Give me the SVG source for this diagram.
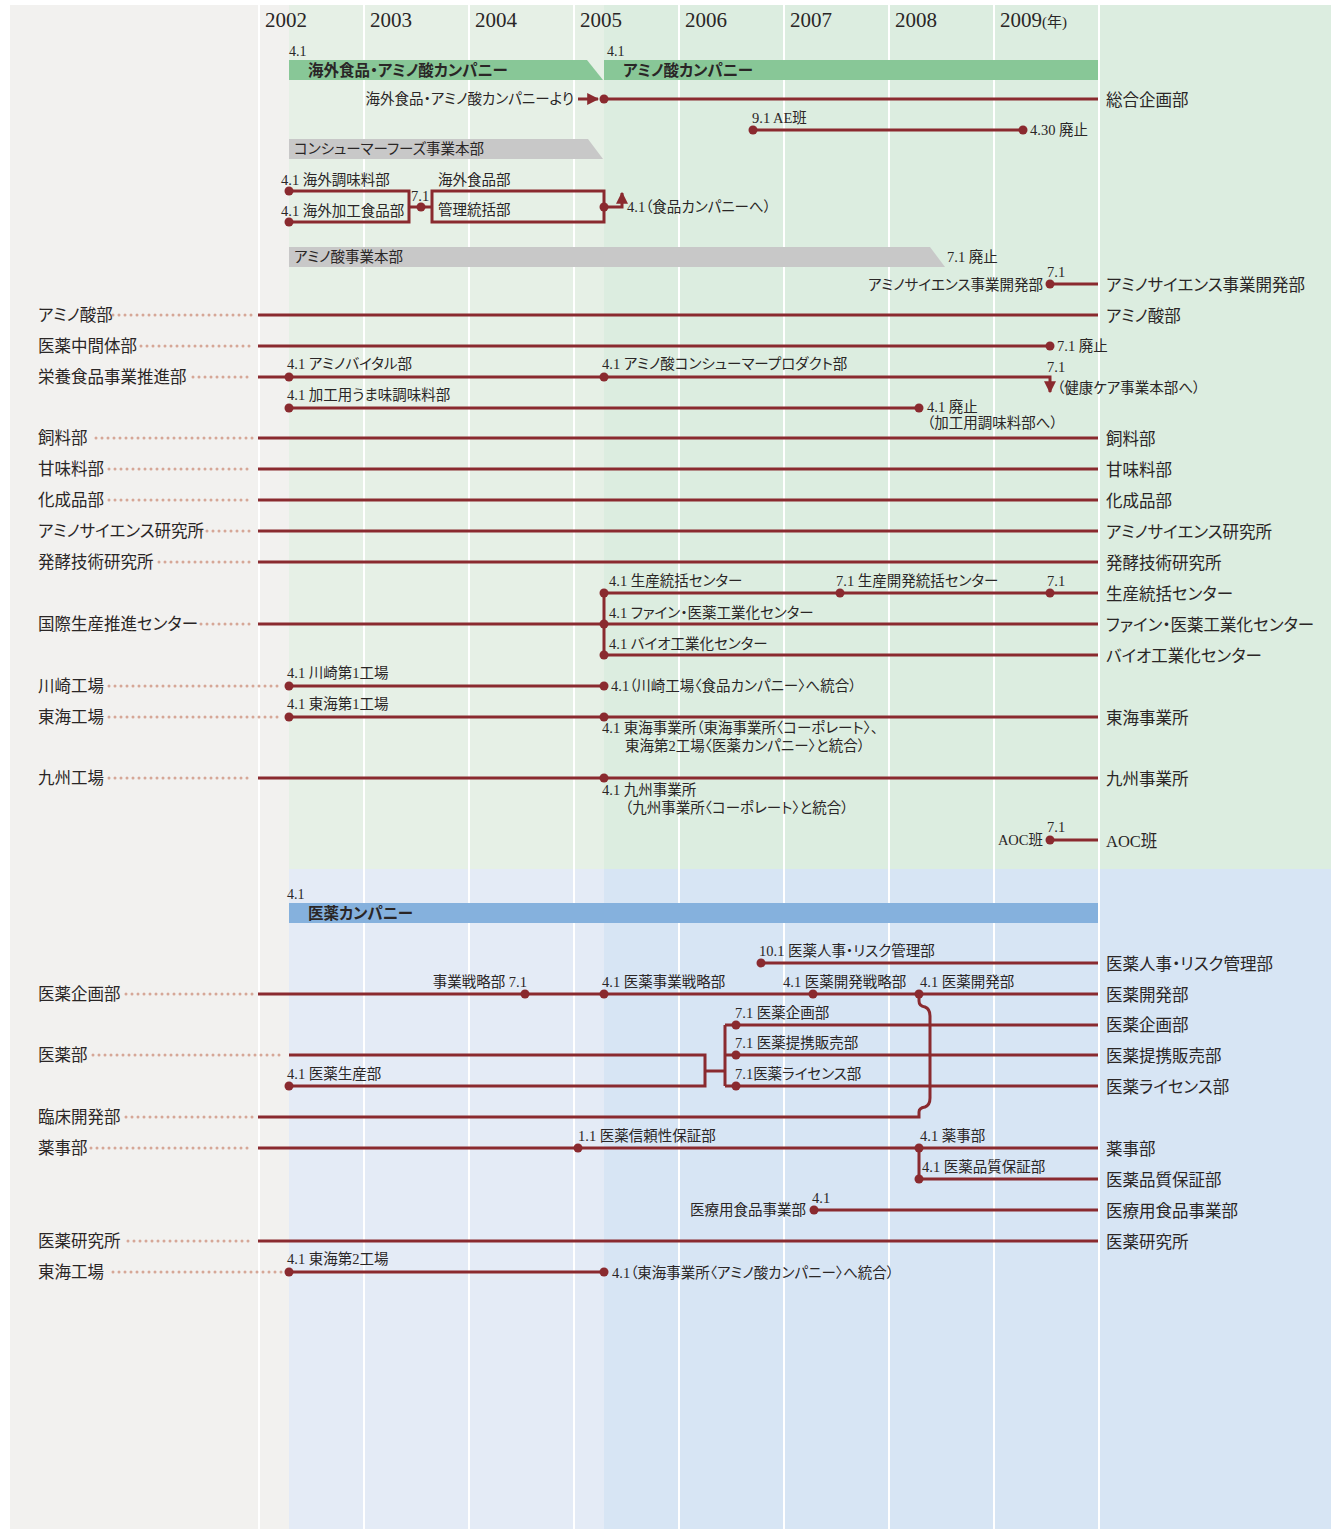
<svg xmlns="http://www.w3.org/2000/svg" width="1331" height="1529" viewBox="0 0 1331 1529">
<style>
.t{font-family:"Liberation Serif","Noto Sans CJK JP",serif;font-size:14.5px;fill:#2a2626;font-feature-settings:"palt" 1}
.s{font-size:14px}
.L{font-size:16.5px}
.R{font-size:16.5px}
.b{font-size:15.5px;font-weight:bold}
.yr{font-size:21px}
.e{text-anchor:end}
.ln{stroke:#8a2a2f;stroke-width:3;fill:none}
.ld{stroke:#d6a797;stroke-width:3;stroke-dasharray:0 6;stroke-linecap:round;fill:none}
.dt{fill:#8a2a2f}
.gl{stroke:#ffffff;stroke-width:2}
</style>
<defs>
<marker id="ar" viewBox="0 0 10 10" refX="9" refY="5" markerWidth="4" markerHeight="4" orient="auto" markerUnits="strokeWidth">
<path d="M0,0 L10,5 L0,10 z" fill="#8a2a2f"/>
</marker>
</defs>
<g id="background">
<rect x="0" y="0" width="1331" height="1529" fill="#ffffff"/>
<rect x="10" y="5" width="1321" height="1524" fill="#f2f1ef"/>
<rect x="289" y="5" width="315" height="864" fill="#e6f0e6"/>
<rect x="604" y="5" width="727" height="864" fill="#dcede0"/>
<rect x="289" y="869" width="315" height="660" fill="#e4ebf6"/>
<rect x="604" y="869" width="727" height="660" fill="#d7e5f4"/>
<line class="gl" x1="259" y1="5" x2="259" y2="1529"/>
<line class="gl" x1="364" y1="5" x2="364" y2="1529"/>
<line class="gl" x1="469" y1="5" x2="469" y2="1529"/>
<line class="gl" x1="574" y1="5" x2="574" y2="1529"/>
<line class="gl" x1="679" y1="5" x2="679" y2="1529"/>
<line class="gl" x1="784" y1="5" x2="784" y2="1529"/>
<line class="gl" x1="889" y1="5" x2="889" y2="1529"/>
<line class="gl" x1="994" y1="5" x2="994" y2="1529"/>
<line class="gl" x1="1099" y1="5" x2="1099" y2="1529"/>
</g>
<g id="years">
<text class="t yr" x="265" y="27">2002</text>
<text class="t yr" x="370" y="27">2003</text>
<text class="t yr" x="475" y="27">2004</text>
<text class="t yr" x="580" y="27">2005</text>
<text class="t yr" x="685" y="27">2006</text>
<text class="t yr" x="790" y="27">2007</text>
<text class="t yr" x="895" y="27">2008</text>
<text class="t yr" x="1000" y="27">2009<tspan font-size="15">(年)</tspan></text>
</g>
<g id="bars">
<text class="t s" x="289" y="56">4.1</text>
<polygon points="289,60 587,60 603,80 289,80" fill="#88c797"/>
<text class="t b" x="308" y="76">海外食品・アミノ酸カンパニー</text>
<text class="t s" x="607" y="56">4.1</text>
<rect x="604" y="60" width="494" height="20" fill="#88c797"/>
<text class="t b" x="623" y="76">アミノ酸カンパニー</text>
<polygon points="289,139 588,139 603,159 289,159" fill="#c8c8c8"/>
<text class="t" x="294" y="154">コンシューマーフーズ事業本部</text>
<polygon points="289,247 930,247 945,267 289,267" fill="#c8c8c8"/>
<text class="t" x="294" y="262">アミノ酸事業本部</text>
<text class="t" x="947" y="262">7.1 廃止</text>
<text class="t s" x="287" y="899">4.1</text>
<rect x="289" y="903" width="809" height="20" fill="#85b1dd"/>
<text class="t b" x="308" y="919">医薬カンパニー</text>
</g>
<g id="connectors">
<line class="ln" x1="578" y1="99" x2="598" y2="99" stroke-width="2" marker-end="url(#ar)"/>
<path class="ln" d="M604,99 H1098"/>
<path class="ln" d="M753,130 H1023"/>
<path class="ln" d="M289,191 H409 V222 H289"/>
<path class="ln" d="M409,207 H432"/>
<rect class="ln" x="432" y="191" width="172" height="31"/>
<path class="ln" d="M604,207 H622 V193" stroke-width="2.5" marker-end="url(#ar)"/>
<path class="ln" d="M1050,284 H1098"/>
<path class="ld" d="M113,315 H253"/>
<path class="ln" d="M258,315 H1098"/>
<path class="ld" d="M141,346 H253"/>
<path class="ln" d="M258,346 H1050"/>
<path class="ld" d="M193,377 H253"/>
<path class="ln" d="M258,377 H1050 V392" marker-end="url(#ar)"/>
<path class="ln" d="M289,408 H919"/>
<path class="ld" d="M96,438 H253"/>
<path class="ln" d="M258,438 H1098"/>
<path class="ld" d="M109,469 H253"/>
<path class="ln" d="M258,469 H1098"/>
<path class="ld" d="M109,500 H253"/>
<path class="ln" d="M258,500 H1098"/>
<path class="ld" d="M201,531 H253"/>
<path class="ln" d="M258,531 H1098"/>
<path class="ld" d="M159,562 H253"/>
<path class="ln" d="M258,562 H1098"/>
<path class="ln" d="M604,593 H1098"/>
<path class="ln" d="M604,593 V655"/>
<path class="ld" d="M201,624 H253"/>
<path class="ln" d="M258,624 H1098"/>
<path class="ln" d="M604,655 H1098"/>
<path class="ld" d="M109,686 H283"/>
<path class="ln" d="M289,686 H604"/>
<path class="ld" d="M109,717 H283"/>
<path class="ln" d="M289,717 H1098"/>
<path class="ld" d="M109,778 H253"/>
<path class="ln" d="M258,778 H1098"/>
<path class="ln" d="M1050,840 H1098"/>
<path class="ln" d="M761,963 H1098"/>
<path class="ld" d="M126,994 H253"/>
<path class="ln" d="M258,994 H1098"/>
<path class="ln" d="M919,994 V1001 Q919,1006 925,1007 Q930,1009 930,1016 V1098 Q930,1105 925,1107 Q919,1108 919,1112 V1117 H258"/>
<path class="ld" d="M126,1117 H253"/>
<path class="ln" d="M725,1025 H1098"/>
<path class="ln" d="M725,1055 H1098"/>
<path class="ln" d="M725,1086 H1098"/>
<path class="ln" d="M725,1025 V1086"/>
<path class="ld" d="M93,1055 H285"/>
<path class="ln" d="M289,1055 H705 V1086 H289"/>
<path class="ln" d="M705,1071 H725"/>
<path class="ld" d="M91,1148 H253"/>
<path class="ln" d="M258,1148 H1098"/>
<path class="ln" d="M919,1148 V1179 H1098"/>
<path class="ln" d="M814,1210 H1098"/>
<path class="ld" d="M128,1241 H253"/>
<path class="ln" d="M258,1241 H1098"/>
<path class="ld" d="M113,1272 H283"/>
<path class="ln" d="M289,1272 H604"/>
</g>
<g id="dots">
<circle class="dt" cx="604" cy="99" r="4.5"/>
<circle class="dt" cx="753" cy="130" r="4.5"/>
<circle class="dt" cx="1023" cy="130" r="4.5"/>
<circle class="dt" cx="289" cy="191" r="4.5"/>
<circle class="dt" cx="289" cy="222" r="4.5"/>
<circle class="dt" cx="421" cy="207" r="4.5"/>
<circle class="dt" cx="604" cy="207" r="4.5"/>
<circle class="dt" cx="1050" cy="284" r="4.5"/>
<circle class="dt" cx="1050" cy="346" r="4.5"/>
<circle class="dt" cx="289" cy="377" r="4.5"/>
<circle class="dt" cx="604" cy="377" r="4.5"/>
<circle class="dt" cx="289" cy="408" r="4.5"/>
<circle class="dt" cx="919" cy="408" r="4.5"/>
<circle class="dt" cx="604" cy="593" r="4.5"/>
<circle class="dt" cx="840" cy="593" r="4.5"/>
<circle class="dt" cx="1050" cy="593" r="4.5"/>
<circle class="dt" cx="604" cy="624" r="4.5"/>
<circle class="dt" cx="604" cy="655" r="4.5"/>
<circle class="dt" cx="289" cy="686" r="4.5"/>
<circle class="dt" cx="604" cy="686" r="4.5"/>
<circle class="dt" cx="289" cy="717" r="4.5"/>
<circle class="dt" cx="604" cy="717" r="4.5"/>
<circle class="dt" cx="604" cy="778" r="4.5"/>
<circle class="dt" cx="1050" cy="840" r="4.5"/>
<circle class="dt" cx="761" cy="963" r="4.5"/>
<circle class="dt" cx="525" cy="994" r="4.5"/>
<circle class="dt" cx="604" cy="994" r="4.5"/>
<circle class="dt" cx="813" cy="994" r="4.5"/>
<circle class="dt" cx="919" cy="994" r="4.5"/>
<circle class="dt" cx="736" cy="1025" r="4.5"/>
<circle class="dt" cx="736" cy="1055" r="4.5"/>
<circle class="dt" cx="736" cy="1086" r="4.5"/>
<circle class="dt" cx="289" cy="1086" r="4.5"/>
<circle class="dt" cx="578" cy="1148" r="4.5"/>
<circle class="dt" cx="919" cy="1148" r="4.5"/>
<circle class="dt" cx="919" cy="1179" r="4.5"/>
<circle class="dt" cx="814" cy="1210" r="4.5"/>
<circle class="dt" cx="289" cy="1272" r="4.5"/>
<circle class="dt" cx="604" cy="1272" r="4.5"/>
</g>
<g id="n-sogo">
<text class="t e" x="574" y="104">海外食品・アミノ酸カンパニーより</text>
<text class="t R" x="1106" y="106">総合企画部</text>
</g>
<g id="n-ae">
<text class="t" x="752" y="123">9.1 AE班</text>
<text class="t" x="1030" y="135">4.30 廃止</text>
</g>
<g id="n-kaigai">
<text class="t" x="281" y="185">4.1 海外調味料部</text>
<text class="t" x="281" y="216">4.1 海外加工食品部</text>
<text class="t" x="411" y="201">7.1</text>
<text class="t" x="438" y="185">海外食品部</text>
<text class="t" x="438" y="215">管理統括部</text>
<text class="t" x="627" y="212">4.1（食品カンパニーへ）</text>
</g>
<g id="n-aminoscience-dev">
<text class="t e" x="1043" y="290">アミノサイエンス事業開発部</text>
<text class="t" x="1047" y="277">7.1</text>
<text class="t R" x="1106" y="291">アミノサイエンス事業開発部</text>
</g>
<g id="n-aminosan">
<text class="t L" x="38" y="321">アミノ酸部</text>
<text class="t R" x="1106" y="322">アミノ酸部</text>
</g>
<g id="n-iyaku-chukan">
<text class="t L" x="38" y="352">医薬中間体部</text>
<text class="t" x="1057" y="351">7.1 廃止</text>
</g>
<g id="n-eiyo">
<text class="t L" x="38" y="383">栄養食品事業推進部</text>
<text class="t" x="287" y="369">4.1 アミノバイタル部</text>
<text class="t" x="602" y="369">4.1 アミノ酸コンシューマープロダクト部</text>
<text class="t" x="1047" y="372">7.1</text>
<text class="t" x="1057" y="393">（健康ケア事業本部へ）</text>
</g>
<g id="n-kakoyo">
<text class="t" x="287" y="400">4.1 加工用うま味調味料部</text>
<text class="t" x="927" y="412">4.1 廃止</text>
<text class="t" x="927" y="428">（加工用調味料部へ）</text>
</g>
<g id="n-shiryo">
<text class="t L" x="38" y="444">飼料部</text>
<text class="t R" x="1106" y="445">飼料部</text>
</g>
<g id="n-kanmi">
<text class="t L" x="38" y="475">甘味料部</text>
<text class="t R" x="1106" y="476">甘味料部</text>
</g>
<g id="n-kasei">
<text class="t L" x="38" y="506">化成品部</text>
<text class="t R" x="1106" y="507">化成品部</text>
</g>
<g id="n-aminoscience-lab">
<text class="t L" x="38" y="537">アミノサイエンス研究所</text>
<text class="t R" x="1106" y="538">アミノサイエンス研究所</text>
</g>
<g id="n-hakko">
<text class="t L" x="38" y="568">発酵技術研究所</text>
<text class="t R" x="1106" y="569">発酵技術研究所</text>
</g>
<g id="n-seisan">
<text class="t" x="609" y="586">4.1 生産統括センター</text>
<text class="t" x="836" y="586">7.1 生産開発統括センター</text>
<text class="t" x="1047" y="586">7.1</text>
<text class="t R" x="1106" y="600">生産統括センター</text>
</g>
<g id="n-kokusai">
<text class="t L" x="38" y="630">国際生産推進センター</text>
<text class="t" x="609" y="618">4.1 ファイン・医薬工業化センター</text>
<text class="t R" x="1106" y="631">ファイン・医薬工業化センター</text>
</g>
<g id="n-bio">
<text class="t" x="609" y="649">4.1 バイオ工業化センター</text>
<text class="t R" x="1106" y="662">バイオ工業化センター</text>
</g>
<g id="n-kawasaki">
<text class="t L" x="38" y="692">川崎工場</text>
<text class="t" x="287" y="678">4.1 川崎第1工場</text>
<text class="t" x="611" y="691">4.1（川崎工場〈食品カンパニー〉へ統合）</text>
</g>
<g id="n-tokai">
<text class="t L" x="38" y="723">東海工場</text>
<text class="t" x="287" y="709">4.1 東海第1工場</text>
<text class="t" x="602" y="733">4.1 東海事業所（東海事業所〈コーポレート〉、</text>
<text class="t" x="625" y="751">東海第2工場〈医薬カンパニー〉と統合）</text>
<text class="t R" x="1106" y="724">東海事業所</text>
</g>
<g id="n-kyushu">
<text class="t L" x="38" y="784">九州工場</text>
<text class="t" x="602" y="795">4.1 九州事業所</text>
<text class="t" x="625" y="813">（九州事業所〈コーポレート〉と統合）</text>
<text class="t R" x="1106" y="785">九州事業所</text>
</g>
<g id="n-aoc">
<text class="t e" x="1043" y="845">AOC班</text>
<text class="t" x="1047" y="832">7.1</text>
<text class="t R" x="1106" y="847">AOC班</text>
</g>
<g id="n-iyaku-jinji">
<text class="t" x="759" y="956">10.1 医薬人事・リスク管理部</text>
<text class="t R" x="1106" y="970">医薬人事・リスク管理部</text>
</g>
<g id="n-iyaku-kikaku">
<text class="t L" x="38" y="1000">医薬企画部</text>
<text class="t e" x="527" y="987">事業戦略部 7.1</text>
<text class="t" x="602" y="987">4.1 医薬事業戦略部</text>
<text class="t" x="783" y="987">4.1 医薬開発戦略部</text>
<text class="t" x="920" y="987">4.1 医薬開発部</text>
<text class="t R" x="1106" y="1001">医薬開発部</text>
</g>
<g id="n-iyaku">
<text class="t L" x="38" y="1061">医薬部</text>
<text class="t" x="287" y="1079">4.1 医薬生産部</text>
<text class="t" x="735" y="1018">7.1 医薬企画部</text>
<text class="t" x="735" y="1048">7.1 医薬提携販売部</text>
<text class="t" x="735" y="1079">7.1医薬ライセンス部</text>
<text class="t R" x="1106" y="1031">医薬企画部</text>
<text class="t R" x="1106" y="1062">医薬提携販売部</text>
<text class="t R" x="1106" y="1093">医薬ライセンス部</text>
</g>
<g id="n-rinsho">
<text class="t L" x="38" y="1123">臨床開発部</text>
</g>
<g id="n-yakuji">
<text class="t L" x="38" y="1154">薬事部</text>
<text class="t" x="578" y="1141">1.1 医薬信頼性保証部</text>
<text class="t" x="920" y="1141">4.1 薬事部</text>
<text class="t" x="922" y="1172">4.1 医薬品質保証部</text>
<text class="t R" x="1106" y="1155">薬事部</text>
<text class="t R" x="1106" y="1186">医薬品質保証部</text>
</g>
<g id="n-iryoyo">
<text class="t e" x="806" y="1215">医療用食品事業部</text>
<text class="t" x="812" y="1203">4.1</text>
<text class="t R" x="1106" y="1217">医療用食品事業部</text>
</g>
<g id="n-iyaku-lab">
<text class="t L" x="38" y="1247">医薬研究所</text>
<text class="t R" x="1106" y="1248">医薬研究所</text>
</g>
<g id="n-tokai2">
<text class="t L" x="38" y="1278">東海工場</text>
<text class="t" x="287" y="1264">4.1 東海第2工場</text>
<text class="t" x="612" y="1278">4.1（東海事業所〈アミノ酸カンパニー〉へ統合）</text>
</g>
</svg>
